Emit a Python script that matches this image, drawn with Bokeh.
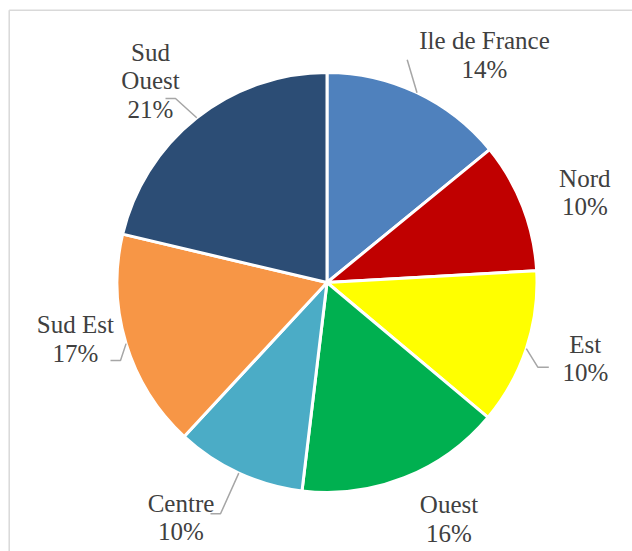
import math
from bokeh.plotting import figure
from bokeh.models import Range1d, ColumnDataSource
from bokeh.core.properties import value
from bokeh.embed import file_html
from bokeh.resources import INLINE

# ---- data ----
regions = ["Ile de France", "Nord", "Est", "Ouest", "Centre", "Sud Est", "Sud Ouest"]
shares = [14.1, 10.0, 12.0, 15.8, 10.0, 16.8, 21.3]
pct_labels = ["14%", "10%", "10%", "16%", "10%", "17%", "21%"]
colors = ["#4f81bd", "#c00000", "#ffff00", "#00b050", "#4bacc6", "#f79646", "#2c4d75"]

# ---- layout (image pixels) ----
W, H = 632, 551
def px(x): return x
def py(y): return H - y

CX, CY, R = px(326.5), py(282), 210
name_lines = {"Sud Ouest": ["Sud", "Ouest"]}
label_centers = [(484, 54.3), (584.3, 192.2), (584.8, 358.2), (448.5, 518.7),
                 (180.5, 517), (74.8, 338.3), (150, 80)]
LINE_H = 28.5
# leader elbows/ends (image pixels), start point computed at slice middle on the rim
leaders = {
    "Ile de France": [(406.7, 59.3)],
    "Est": [(537.3, 366.7), (548.3, 366.7)],
    "Centre": [(220, 513.3), (210, 513.3)],
    "Sud Est": [(120, 360), (110, 360)],
    "Sud Ouest": [(175, 98), (165, 98)],
}

p = figure(width=W, height=H, output_backend="svg", toolbar_location=None,
           x_range=Range1d(0, W), y_range=Range1d(0, H), min_border=0)
p.axis.visible = False
p.grid.visible = False
p.outline_line_color = None
p.background_fill_color = "white"
p.border_fill_color = "white"

# chart frame (left & top visible)
p.line([px(8.7), px(8.7)], [0, py(9.7)], line_color="#d9d9d9", line_width=1.5)
p.line([px(8.7), W], [py(9.7), py(9.7)], line_color="#d9d9d9", line_width=1.5)

total = sum(shares)
starts, ends, mids = [], [], []
cum = 0.0
for s in shares:
    a0 = cum / total * 360.0
    cum += s
    a1 = cum / total * 360.0
    starts.append(math.radians(90 - a1))
    ends.append(math.radians(90 - a0))
    mids.append((a0 + a1) / 2)

src = ColumnDataSource(dict(start=starts, end=ends, color=colors, region=regions))
p.wedge(x=CX, y=CY, radius=R, start_angle="start", end_angle="end",
        direction="anticlock", fill_color="color", line_color="white",
        line_width=3, source=src)

# leader lines
for i, reg in enumerate(regions):
    if reg in leaders:
        a = math.radians(mids[i])
        xs = [CX + R * math.sin(a)] + [px(x) for x, _ in leaders[reg]]
        ys = [CY + R * math.cos(a)] + [py(y) for _, y in leaders[reg]]
        p.line(xs, ys, line_color="#a6a6a6", line_width=1.5)

# labels
tx, ty, tt = [], [], []
for i, reg in enumerate(regions):
    lines = name_lines.get(reg, [reg]) + [pct_labels[i]]
    cx, cy = label_centers[i]
    n = len(lines)
    for k, ln in enumerate(lines):
        tx.append(px(cx))
        ty.append(py(cy + (k - (n - 1) / 2) * LINE_H))
        tt.append(ln)
p.text(x=tx, y=ty, text=tt, text_align="center", text_baseline="middle",
       text_font=value("Liberation Serif"), text_font_size="25px",
       text_color="#404040")

open("out.html", "w").write(file_html(p, INLINE))
